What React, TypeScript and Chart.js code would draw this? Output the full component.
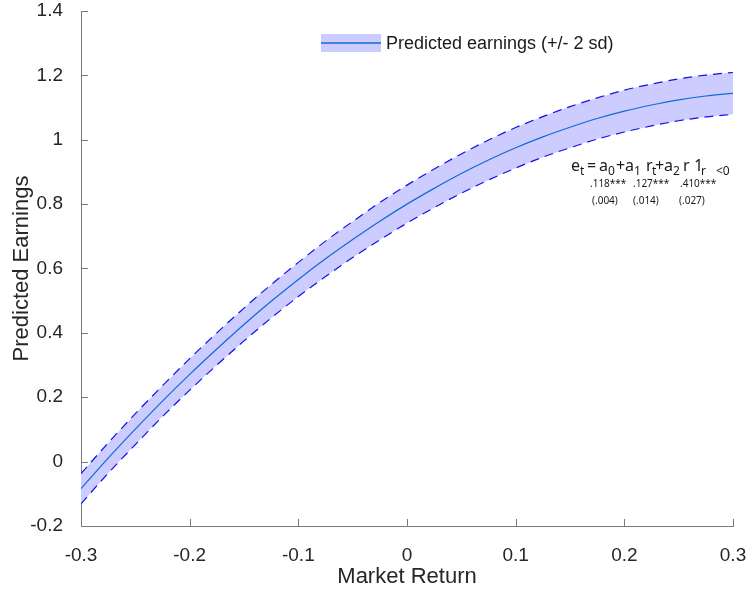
import React, { useEffect, useRef } from "react";
import { Chart, registerables } from "chart.js";

Chart.register(...registerables);

// ---- data ----
const marketReturn = [
  -0.3, -0.275, -0.25, -0.225, -0.2, -0.175, -0.15, -0.125, -0.1, -0.075, -0.05, -0.025,
  0, 0.025, 0.05, 0.075, 0.1, 0.125, 0.15, 0.175, 0.2, 0.225, 0.25, 0.275, 0.3,
];
const predicted = [
  -0.084, 0.011, 0.101, 0.188, 0.271, 0.35, 0.426, 0.498, 0.566, 0.63, 0.69, 0.747,
  0.8, 0.849, 0.895, 0.937, 0.975, 1.009, 1.039, 1.066, 1.089, 1.108, 1.124, 1.136, 1.144,
];
const upperBand = [
  -0.037, 0.058, 0.149, 0.236, 0.32, 0.4, 0.477, 0.55, 0.619, 0.685, 0.746, 0.805,
  0.859, 0.909, 0.956, 0.999, 1.038, 1.072, 1.103, 1.13, 1.154, 1.173, 1.189, 1.201, 1.209,
];
const lowerBand = [
  -0.131, -0.036, 0.053, 0.14, 0.222, 0.3, 0.375, 0.446, 0.513, 0.575, 0.634, 0.689,
  0.741, 0.789, 0.834, 0.875, 0.912, 0.946, 0.975, 1.002, 1.024, 1.043, 1.059, 1.071, 1.079,
];
const xTickValues = [-0.3, -0.2, -0.1, 0, 0.1, 0.2, 0.3];
const xTickLabels = ["-0.3", "-0.2", "-0.1", "0", "0.1", "0.2", "0.3"];
const yTickValues = [-0.2, 0, 0.2, 0.4, 0.6, 0.8, 1, 1.2, 1.4];
const yTickLabels = ["-0.2", "0", "0.2", "0.4", "0.6", "0.8", "1", "1.2", "1.4"];
const legendLabel = "Predicted earnings (+/- 2 sd)";
const coefficients = [".118***", ".127***", ".410***"];
const standardErrors = ["(.004)", "(.014)", "(.027)"];

const AXIS_COLOR = "#7a7a7a";
const LINE_COLOR = "#0f6ad8";
const BAND_COLOR = "#ccccff";
const DASH_COLOR = "#1010f0";
const FONT = "Arial, 'Liberation Sans', Helvetica, sans-serif";
const EQ_FONT = "'Noto Sans', Lato, sans-serif";

const innerTicksPlugin = {
  id: "innerTicks",
  afterDraw(chart: any) {
    const { ctx, chartArea, scales } = chart;
    ctx.save();
    ctx.strokeStyle = AXIS_COLOR;
    ctx.lineWidth = 1;
    ctx.beginPath();
    for (const v of yTickValues) {
      const y = Math.round(scales.y.getPixelForValue(v)) + 0.5;
      ctx.moveTo(chartArea.left, y);
      ctx.lineTo(chartArea.left + 7, y);
    }
    for (const v of xTickValues) {
      const x = Math.round(scales.x.getPixelForValue(v)) + 0.5;
      ctx.moveTo(x, chartArea.bottom);
      ctx.lineTo(x, chartArea.bottom - 7);
    }
    ctx.stroke();
    ctx.restore();
  },
};

const legendPlugin = {
  id: "customLegend",
  afterDraw(chart: any) {
    const { ctx } = chart;
    const x = 321, y = 34, w = 60, h = 18;
    ctx.save();
    ctx.fillStyle = BAND_COLOR;
    ctx.fillRect(x, y, w, h);
    ctx.strokeStyle = LINE_COLOR;
    ctx.lineWidth = 1.3;
    ctx.beginPath();
    ctx.moveTo(x, y + h / 2);
    ctx.lineTo(x + w, y + h / 2);
    ctx.stroke();
    ctx.fillStyle = "#1a1a1a";
    ctx.font = `18px ${FONT}`;
    ctx.textBaseline = "middle";
    ctx.textAlign = "left";
    ctx.fillText(legendLabel, x + w + 5, y + h / 2 + 1);
    ctx.restore();
  },
};

const equationPlugin = {
  id: "equation",
  afterDraw(chart: any) {
    const { ctx } = chart;
    ctx.save();
    ctx.fillStyle = "#1a1a1a";
    ctx.textAlign = "left";
    ctx.textBaseline = "alphabetic";
    const base = 171;
    const subBase = 175;
    const main = (t: string, x: number) => {
      ctx.font = `16px ${EQ_FONT}`;
      ctx.fillText(t, x, base);
    };
    const sub = (t: string, x: number) => {
      ctx.font = `12px ${EQ_FONT}`;
      ctx.fillText(t, x, subBase);
    };
    main("e", 571);
    sub("t", 580);
    main("=", 587);
    main("a", 599);
    sub("0", 608);
    main("+", 616);
    main("a", 625);
    sub("1", 634);
    main("r", 646);
    sub("t", 652);
    main("+", 655);
    main("a", 664);
    sub("2", 673);
    main("r", 683);
    main("1", 694);
    sub("r", 701);
    sub("<0", 716);
    ctx.font = `10px ${EQ_FONT}`;
    const cx = [590, 633, 680];
    const sx = [592, 633, 679];
    coefficients.forEach((c, i) => ctx.fillText(c, cx[i], 187));
    standardErrors.forEach((c, i) => ctx.fillText(c, sx[i], 204));
    ctx.restore();
  },
};

export default function App() {
  const canvasRef = useRef<HTMLCanvasElement | null>(null);

  useEffect(() => {
    const canvas = canvasRef.current;
    if (!canvas) return;
    const toPoints = (arr: number[]) => marketReturn.map((x, i) => ({ x, y: arr[i] }));
    const chart = new Chart(canvas, {
      type: "line",
      data: {
        datasets: [
          {
            label: "upper",
            data: toPoints(upperBand),
            borderColor: DASH_COLOR,
            borderWidth: 1.2,
            borderDash: [9, 6],
            backgroundColor: BAND_COLOR,
            fill: "+1",
            pointRadius: 0,
            order: 2,
            cubicInterpolationMode: "monotone",
          },
          {
            label: "lower",
            data: toPoints(lowerBand),
            borderColor: DASH_COLOR,
            borderWidth: 1.2,
            borderDash: [9, 6],
            backgroundColor: BAND_COLOR,
            fill: false,
            pointRadius: 0,
            order: 2,
            cubicInterpolationMode: "monotone",
          },
          {
            label: legendLabel,
            data: toPoints(predicted),
            borderColor: LINE_COLOR,
            borderWidth: 1.2,
            fill: false,
            pointRadius: 0,
            order: 0,
            cubicInterpolationMode: "monotone",
          },
        ],
      },
      options: {
        animation: false,
        responsive: false,
        events: [],
        layout: { padding: { top: 11, right: 14, left: 0, bottom: 0 } },
        plugins: {
          legend: { display: false },
          tooltip: { enabled: false },
          filler: { drawTime: "beforeDatasetsDraw" },
        },
        scales: {
          x: {
            type: "linear",
            min: -0.3,
            max: 0.3,
            afterBuildTicks: (scale: any) => {
              scale.ticks = xTickValues.map((value) => ({ value }));
            },
            afterFit: (scale: any) => {
              scale.height = 66;
              scale.paddingLeft = 0;
              scale.paddingRight = 0;
            },
            ticks: {
              color: "#262626",
              font: { family: FONT, size: 19, lineHeight: 1.1 },
              padding: 11,
              maxRotation: 0,
              callback: (value: any) => {
                const i = xTickValues.findIndex((v) => Math.abs(v - value) < 1e-9);
                return i >= 0 ? xTickLabels[i] : "";
              },
            },
            grid: { display: false },
            border: { display: true, color: AXIS_COLOR, width: 1 },
            title: {
              display: true,
              text: "Market Return",
              color: "#262626",
              font: { family: FONT, size: 22, lineHeight: 1.2 },
              padding: { top: 0, bottom: 2 },
            },
          },
          y: {
            type: "linear",
            min: -0.2,
            max: 1.4,
            afterBuildTicks: (scale: any) => {
              scale.ticks = yTickValues.map((value) => ({ value }));
            },
            afterFit: (scale: any) => {
              scale.width = 81;
              scale.paddingTop = 0;
              scale.paddingBottom = 0;
            },
            ticks: {
              color: "#262626",
              font: { family: FONT, size: 19, lineHeight: 1.1 },
              padding: 10,
              callback: (value: any) => {
                const i = yTickValues.findIndex((v) => Math.abs(v - value) < 1e-9);
                return i >= 0 ? yTickLabels[i] : "";
              },
            },
            grid: { display: false },
            border: { display: true, color: AXIS_COLOR, width: 1 },
            title: {
              display: true,
              text: "Predicted Earnings",
              color: "#262626",
              font: { family: FONT, size: 22, lineHeight: 1.2 },
              padding: { top: 9, bottom: 0 },
            },
          },
        },
      },
      plugins: [innerTicksPlugin, legendPlugin, equationPlugin],
    } as any);
    return () => chart.destroy();
  }, []);

  return (
    <div style={{ position: "fixed", left: 0, top: 0, width: 747, height: 592, background: "#fff" }}>
      <canvas ref={canvasRef} width={747} height={592} style={{ display: "block" }} />
    </div>
  );
}
